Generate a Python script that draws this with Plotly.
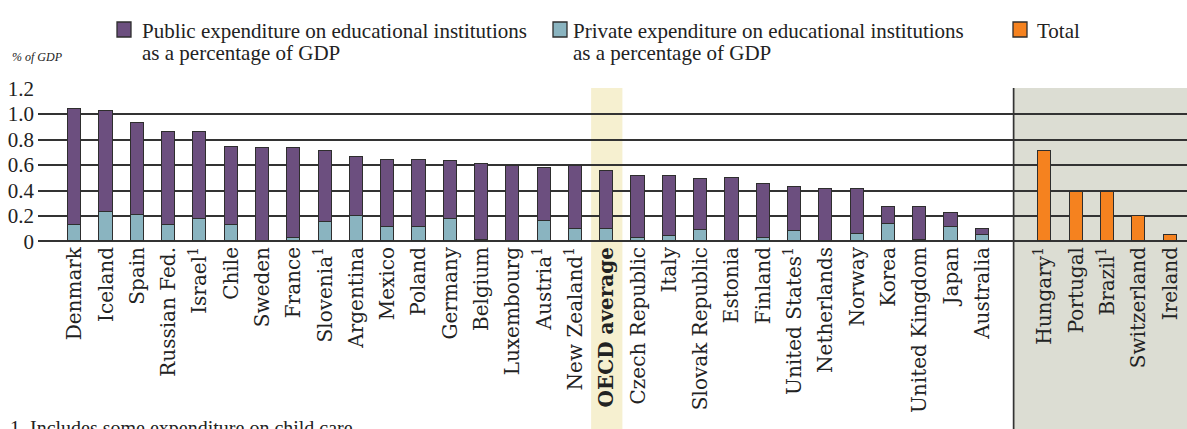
import plotly.graph_objects as go

# ---------------- data ----------------
countries = ["Denmark", "Iceland", "Spain", "Russian Fed.", "Israel<sup>1</sup>", "Chile",
             "Sweden", "France", "Slovenia<sup>1</sup>", "Argentina", "Mexico", "Poland",
             "Germany", "Belgium", "Luxembourg", "Austria<sup>1</sup>", "New Zealand<sup>1</sup>",
             "<b>OECD average</b>", "Czech Republic", "Italy", "Slovak Republic", "Estonia",
             "Finland", "United States<sup>1</sup>", "Netherlands", "Norway", "Korea",
             "United Kingdom", "Japan", "Australia"]
public_exp = [0.91, 0.79, 0.72, 0.73, 0.68, 0.61, 0.73, 0.70, 0.56, 0.46, 0.53, 0.53,
              0.45, 0.60, 0.59, 0.42, 0.49, 0.45, 0.48, 0.47, 0.40, 0.50, 0.42, 0.35,
              0.41, 0.35, 0.13, 0.26, 0.11, 0.05]
private_exp = [0.13, 0.23, 0.21, 0.13, 0.18, 0.13, 0.00, 0.03, 0.15, 0.20, 0.11, 0.11,
               0.18, 0.01, 0.00, 0.16, 0.10, 0.10, 0.03, 0.04, 0.09, 0.00, 0.03, 0.08,
               0.00, 0.06, 0.14, 0.01, 0.11, 0.05]
total_countries = ["Hungary<sup>1</sup>", "Portugal", "Brazil<sup>1</sup>", "Switzerland", "Ireland"]
total_exp = [0.71, 0.39, 0.39, 0.20, 0.05]

y_tick_vals = [0, 0.2, 0.4, 0.6, 0.8, 1.0, 1.2]
y_tick_text = ["0", "0.2", "0.4", "0.6", "0.8", "1.0", "1.2"]

legend_public = ["Public expenditure on educational institutions", "as a percentage of GDP"]
legend_private = ["Private expenditure on educational institutions", "as a percentage of GDP"]
legend_total = ["Total"]
y_title = "% of GDP"
footnote = "1. Includes some expenditure on child care."
oecd_label = "<b>OECD average</b>"

# ---------------- styling ----------------
PURPLE = "#6c4f7f"
TEAL = "#8ab4c0"
ORANGE = "#f5821f"
EDGE = "#2e2e2e"
GRID = "#333333"
GRAYBOX = "#dcddd3"
BAND = "#f6f0d0"
SERIF = "Liberation Serif"
TICKFONT = "DejaVu Serif"

W, H = 1187, 429
ML, MR, MT, MB = 38, 0, 88, 187
plot_w = W - ML - MR
plot_h = H - MT - MB

x_main = list(range(len(countries)))
gap_pos = len(countries)
x_total = [gap_pos + 1 + i for i in range(len(total_countries))]
xr = [-1.173, 35.54]


def px_to_paper_x(px):
    return (px - ML) / plot_w


def px_to_paper_y(py):
    return (H - MB - py) / plot_h


def idx_to_paper_x(v):
    return (v - xr[0]) / (xr[1] - xr[0])


fig = go.Figure()
fig.add_trace(go.Bar(x=x_main, y=private_exp, marker=dict(color=TEAL, line=dict(color=EDGE, width=1.3)),
                     width=0.42, name="Private", showlegend=False))
fig.add_trace(go.Bar(x=x_main, y=public_exp, marker=dict(color=PURPLE, line=dict(color=EDGE, width=1.3)),
                     width=0.42, name="Public", showlegend=False))
fig.add_trace(go.Bar(x=x_total, y=total_exp, marker=dict(color=ORANGE, line=dict(color=EDGE, width=1.3)),
                     width=0.42, name="Total", showlegend=False))

shapes = []
# grey region for "Total" countries
shapes.append(dict(type="rect", xref="paper", yref="paper",
                   x0=idx_to_paper_x(gap_pos), x1=1.0, y0=px_to_paper_y(H + 5), y1=1.0,
                   fillcolor=GRAYBOX, line=dict(width=0), layer="below"))
shapes.append(dict(type="line", xref="paper", yref="paper",
                   x0=idx_to_paper_x(gap_pos), x1=idx_to_paper_x(gap_pos),
                   y0=px_to_paper_y(H + 5), y1=1.0,
                   line=dict(color="#333333", width=1.7), layer="above"))
# OECD average band
oi = countries.index(oecd_label)
shapes.append(dict(type="rect", xref="paper", yref="paper",
                   x0=idx_to_paper_x(oi - 0.5), x1=idx_to_paper_x(oi + 0.5),
                   y0=px_to_paper_y(H + 5), y1=1.0,
                   fillcolor=BAND, line=dict(width=0), layer="below"))

annotations = []
legend_items = [(117, 140, PURPLE, legend_public), (553, 571, TEAL, legend_private),
                (1013, 1035, ORANGE, legend_total)]
for sx, tx, col, lines in legend_items:
    shapes.append(dict(type="rect", xref="paper", yref="paper",
                       x0=px_to_paper_x(sx), x1=px_to_paper_x(sx + 14),
                       y0=px_to_paper_y(37), y1=px_to_paper_y(22),
                       fillcolor=col, line=dict(color=EDGE, width=1.3)))
    for li, txt in enumerate(lines):
        annotations.append(dict(xref="paper", yref="paper", x=px_to_paper_x(tx),
                                y=px_to_paper_y(31 + 22 * li),
                                xanchor="left", yanchor="middle", align="left", showarrow=False,
                                text=txt, font=dict(family=SERIF, size=21, color="#222")))

annotations.append(dict(xref="paper", yref="paper", x=px_to_paper_x(10), y=px_to_paper_y(57),
                        xanchor="left", yanchor="middle", showarrow=False,
                        text="<i>" + y_title + "</i>", font=dict(family=SERIF, size=12, color="#222")))
annotations.append(dict(xref="paper", yref="paper", x=px_to_paper_x(8), y=px_to_paper_y(415),
                        xanchor="left", yanchor="top", showarrow=False,
                        text=footnote, font=dict(family=SERIF, size=20, color="#222")))

fig.update_layout(
    width=W, height=H,
    margin=dict(l=ML, r=MR, t=MT, b=MB, pad=0, autoexpand=False),
    paper_bgcolor="white", plot_bgcolor="rgba(0,0,0,0)",
    barmode="stack", bargap=0,
    shapes=shapes, annotations=annotations,
    showlegend=False,
    xaxis=dict(range=xr, tickmode="array", tickvals=x_main + x_total,
               ticktext=countries + total_countries, tickangle=-90, automargin=False,
               tickfont=dict(family=TICKFONT, size=20, color="#222"),
               showgrid=False, zeroline=False, showline=False, ticks="", ticklen=0),
    yaxis=dict(range=[-0.004, 1.204], tickmode="array", tickvals=y_tick_vals, ticktext=y_tick_text,
               automargin=False,
               tickfont=dict(family=SERIF, size=21, color="#222"),
               showgrid=True, gridcolor=GRID, gridwidth=1.7,
               zeroline=True, zerolinecolor=GRID, zerolinewidth=1.7,
               showline=False, ticks="", ticklabelstandoff=3),
)

fig.write_html("out.html", config={"displayModeBar": False},
               post_script="document.body.style.margin='0px';document.body.style.overflow='hidden';")
